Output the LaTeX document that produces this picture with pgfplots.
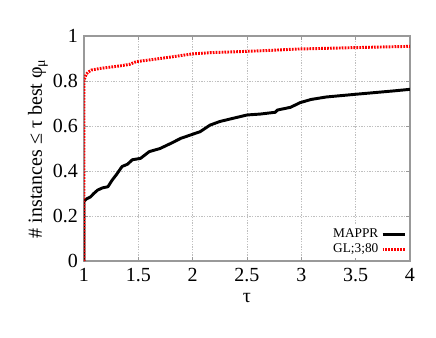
\documentclass[border=0pt]{standalone}
\usepackage{fontspec}
\setmainfont{Liberation Serif}
\usepackage{pgfplots}
\pgfplotsset{compat=1.18}
\begin{document}
\begin{tikzpicture}
\path[use as bounding box] (-63pt,-57pt) rectangle (264pt,195.75pt);
\begin{axis}[
  scale only axis,
  width=244.5pt, height=168.75pt,
  xmin=1, xmax=4, ymin=0, ymax=1,
  xtick={1,1.5,2,2.5,3,3.5,4},
  ytick={0,0.2,0.4,0.6,0.8,1},
  /pgf/number format/assume math mode=true,
  tick label style={font=\fontsize{15}{17}\selectfont},
  xticklabel style={yshift=-2pt},
  yticklabel style={xshift=-1pt},
  axis line style={gray!80, line width=0.8pt},
  tick style={gray!80, line width=0.5pt},
  major tick length=3pt,
  grid=major,
  grid style={gray!50, dash pattern=on 1pt off 1pt, line width=0.4pt},
  xlabel={τ},
  ylabel={\# instances ≤ τ best φ\textsubscript{μ}},
  label style={font=\fontsize{15}{17}\selectfont},
  xlabel style={yshift=-2pt},
  ylabel style={yshift=-3pt},
  legend plot pos=right,
  legend style={draw=none, fill=white, font=\fontsize{10}{11}\selectfont,
    row sep=-1pt, inner sep=1pt, at={(0.995,0.01)}, anchor=south east},
  legend cell align=right,
]
\addplot[black, line width=2.2pt, line join=round] coordinates {
(1,0) (1,0.265) (1.02,0.275) (1.06,0.285) (1.09,0.30) (1.125,0.315) (1.17,0.325)
(1.22,0.33) (1.26,0.36) (1.30,0.385) (1.35,0.42) (1.40,0.43) (1.445,0.45)
(1.52,0.456) (1.6,0.486) (1.70,0.50) (1.80,0.523) (1.89,0.545) (1.98,0.56)
(2.07,0.575) (2.16,0.604) (2.25,0.62) (2.37,0.634) (2.5,0.649) (2.62,0.653)
(2.76,0.661) (2.78,0.671) (2.9,0.683) (2.99,0.704) (3.09,0.718) (3.23,0.729)
(3.5,0.741) (3.85,0.756) (4,0.763)
};
\addlegendentry{MAPPR}
\addplot[red, line width=2.2pt, dash pattern=on 1.3pt off 0.9pt] coordinates {
(1,0) (1,0.804) (1.02,0.83) (1.04,0.84) (1.07,0.849) (1.15,0.856) (1.33,0.867)
(1.42,0.874) (1.48,0.886) (1.64,0.896) (1.82,0.908) (1.99,0.92) (2.16,0.926)
(2.4,0.93) (2.71,0.936) (2.96,0.942) (3.5,0.9485) (4,0.954)
};
\addlegendentry{GL;3;80}
\end{axis}
\end{tikzpicture}
\end{document}
